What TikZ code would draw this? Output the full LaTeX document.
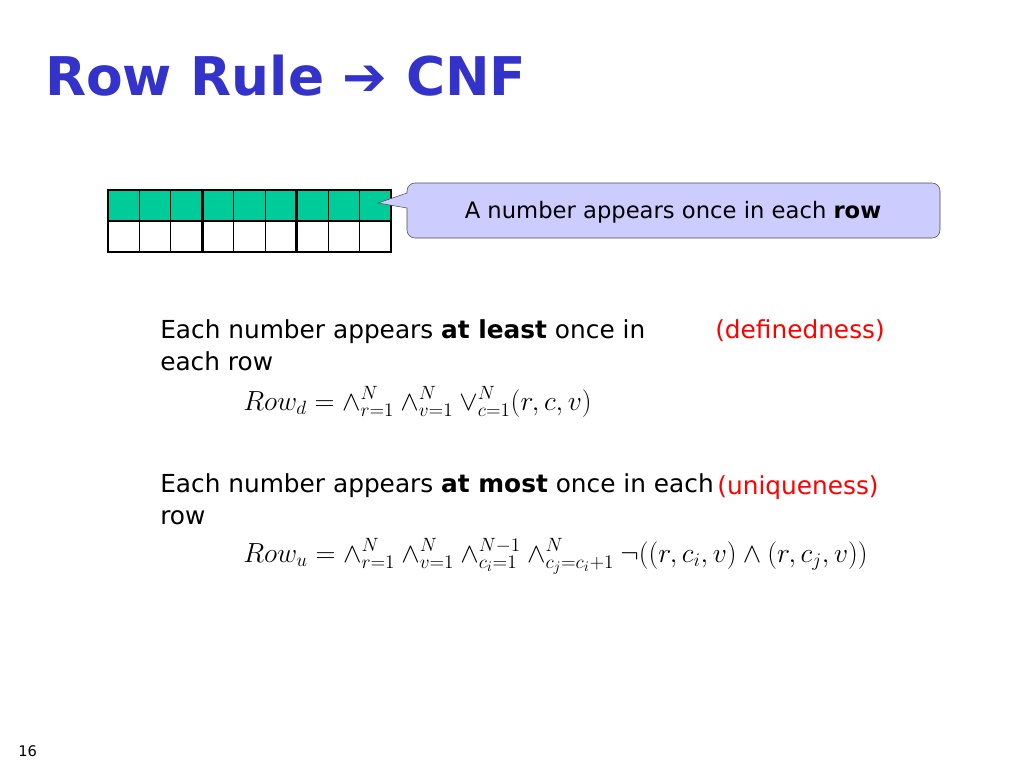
\documentclass[tikz,border=0pt]{standalone}
\usepackage{fontspec}
\setmainfont{DejaVu Sans}
\usetikzlibrary{positioning}
\definecolor{titleblue}{HTML}{3333CC}
\definecolor{cellgreen}{HTML}{00CC99}
\definecolor{calloutfill}{HTML}{CCCCFF}
\tikzset{
  body/.style={anchor=base west, inner sep=0pt, font=\fontsize{18.6}{22}\selectfont},
  tag/.style={anchor=base, inner sep=0pt, text=red, font=\fontsize{18.6}{22}\selectfont},
  formula/.style={anchor=base west, inner sep=0pt, font=\fontsize{21.2}{25}\selectfont}
}
\begin{document}
\begin{tikzpicture}[x=0.75pt,y=-0.75pt]
	\useasboundingbox (0,0) rectangle (1024,768);
	\node[anchor=base west, inner sep=0pt, text=titleblue, font=\fontsize{40}{46}\selectfont\bfseries] (title) at (45,95) {Row Rule ➔ CNF};

	% grid
	\fill[cellgreen] (108,190) rectangle (391,221);
	\foreach \i in {1,...,8}
		\draw[thick] (108+\i*31.44,190) -- (108+\i*31.44,252);
	\foreach \i in {3,6}
		\draw[line width=2pt] (108+\i*31.44,190) -- (108+\i*31.44,252);
	\draw[line width=2pt] (108,221) -- (391,221);
	\draw[line width=2pt] (108,190) rectangle (391,252);

	\coordinate (tip) at (378,203);
	\draw[fill=calloutfill, draw=black!70]
		(407,193) [rounded corners=6pt] -- (407,183) -- (940,183) -- (940,238) -- (407,238) [sharp corners] -- (407,208) -- (tip) -- cycle;
	\node[anchor=center, font=\fontsize{17}{20}\selectfont] (callout) at (673,212) {A number appears once in each \textbf{row}};

	\node[body] (least) at (160,338) {Each number appears \textbf{at least} once in};
	\node[body] (least2) at (160,370) {each row};
	\node[tag] (defined) at (800,338) {(definedness)};
	\node[formula] (rowd) at (243,410) {$Row_d = \wedge_{r=1}^{N}\wedge_{v=1}^{N}\vee_{c=1}^{N}(r,c,v)$};

	\node[body] (most) at (160,492) {Each number appears \textbf{at most} once in each};
	\node[body] (most2) at (160,524) {row};
	\node[tag] (unique) at (798,494) {(uniqueness)};
	\node[formula] (rowu) at (243,562) {$Row_u = \wedge_{r=1}^{N}\wedge_{v=1}^{N}\wedge_{c_i=1}^{N-1}\wedge_{c_j=c_i+1}^{N}\neg((r,c_i,v)\wedge(r,c_j,v))$};

	\node[anchor=base west, inner sep=0pt, font=\fontsize{11}{13}\selectfont] (page) at (18,756) {16};
\end{tikzpicture}
\end{document}
